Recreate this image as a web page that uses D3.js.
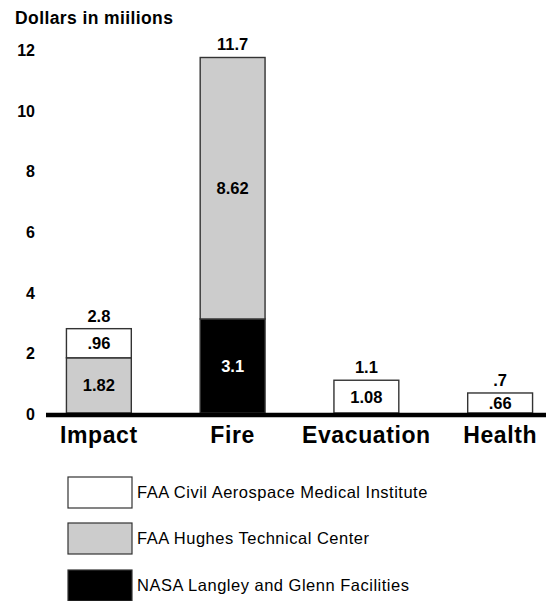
<!DOCTYPE html>
<html><head><meta charset="utf-8">
<script src="https://d3js.org/d3.v7.min.js"></script>
<style>body{margin:0;background:#fff}svg{display:block;font-family:"Liberation Sans",Arial,Helvetica,sans-serif}</style>
</head><body>
<svg id="chart" width="546" height="601"></svg>
<script>
const categories = ["Impact", "Fire", "Evacuation", "Health"];
const nasa   = [0, 3.1, 0, 0];
const hughes = [1.82, 8.62, 0, 0];
const cami   = [0.96, 0, 1.08, 0.66];
const totals = ["2.8", "11.7", "1.1", ".7"];
const segLabels = {
  nasa:   ["", "3.1", "", ""],
  hughes: ["1.82", "8.62", "", ""],
  cami:   [".96", "", "1.08", ".66"]
};
const seriesNames = ["FAA Civil Aerospace Medical Institute", "FAA Hughes Technical Center", "NASA Langley and Glenn Facilities"];
const yTicks = [0, 2, 4, 6, 8, 10, 12];

const svg = d3.select("#chart");
const y = d3.scaleLinear().domain([0, 12]).range([413, 49]);
const x = d3.scaleBand().domain(categories).range([33, 566]).paddingInner(0.515).paddingOuter(0.25);

svg.append("text").attr("x", 15).attr("y", 24).attr("font-size", 17.5).attr("font-weight", "bold")
  .attr("letter-spacing", 0.4).text("Dollars in miilions");

svg.selectAll(".ytick").data(yTicks).enter().append("text")
  .attr("x", 35).attr("y", d => y(d) + 7).attr("text-anchor", "end")
  .attr("font-size", 16).attr("font-weight", "bold").text(d => d);

const layers = [
  {key: "nasa", vals: nasa, fill: "#000", text: "#fff"},
  {key: "hughes", vals: hughes, fill: "#cccccc", text: "#000"},
  {key: "cami", vals: cami, fill: "#fff", text: "#000"}
];

categories.forEach((c, i) => {
  let base = 0;
  const cx = x(c) + x.bandwidth() / 2;
  layers.forEach(L => {
    const v = L.vals[i];
    if (v > 0) {
      svg.append("rect").attr("x", x(c)).attr("y", y(base + v)).attr("width", x.bandwidth())
        .attr("height", y(base) - y(base + v)).attr("fill", L.fill).attr("stroke", "#333").attr("stroke-width", 1.4);
      const lbl = segLabels[L.key][i];
      if (lbl) {
        svg.append("text").attr("x", cx).attr("y", (y(base) + y(base + v)) / 2 + 6)
          .attr("text-anchor", "middle").attr("font-size", 16.5).attr("font-weight", "bold").attr("fill", L.text).text(lbl);
      }
    }
    base += v;
  });
  svg.append("text").attr("x", cx).attr("y", y(base) - 7)
    .attr("text-anchor", "middle").attr("font-size", 16.5).attr("font-weight", "bold").text(totals[i]);
  svg.append("text").attr("x", cx).attr("y", 443)
    .attr("text-anchor", "middle").attr("font-size", 23).attr("font-weight", "bold")
    .attr("letter-spacing", 0.6).text(c);
});

svg.append("line").attr("x1", 46).attr("x2", 546).attr("y1", y(0) + 2).attr("y2", y(0) + 2).attr("stroke", "#000").attr("stroke-width", 4.5);

const legFills = ["#fff", "#cccccc", "#000"];
const legY = [477, 523, 570];
seriesNames.forEach((n, i) => {
  svg.append("rect").attr("x", 68).attr("y", legY[i]).attr("width", 64).attr("height", 31)
    .attr("fill", legFills[i]).attr("stroke", "#333").attr("stroke-width", 1.2);
  svg.append("text").attr("x", 137).attr("y", legY[i] + 21).attr("font-size", 16.5)
    .attr("letter-spacing", 0.5).text(n);
});
</script>
</body></html>
